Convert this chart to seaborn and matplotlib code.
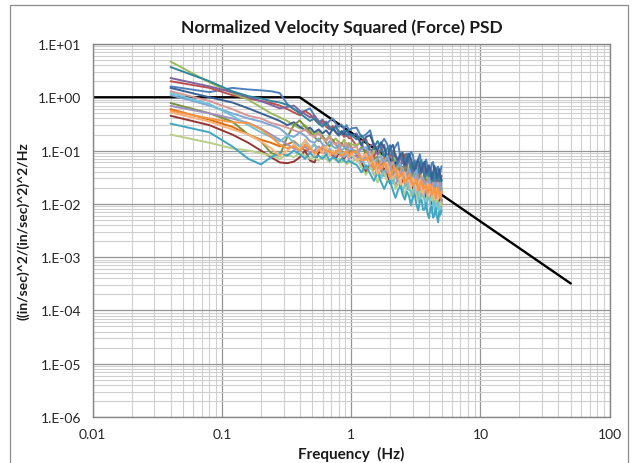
import numpy as np
import pandas as pd
import matplotlib
matplotlib.use("Agg")
import matplotlib.pyplot as plt
from matplotlib.ticker import LogLocator, FixedLocator, NullFormatter
from matplotlib.patches import Rectangle
import seaborn as sns

# ---------------- data ----------------
low_freq = np.round(np.arange(1, 26) * 0.04, 2)     # 0.04 .. 1.00 Hz
high_freq = np.round(np.arange(11, 51) * 0.1, 1)    # 1.1 .. 5.0 Hz

blue_lo = [1.6, 1.25, 1.5, 1.4, 1.35, 1.3, 1.2, 0.75, 0.6, 0.52, 0.56, 0.62, 0.45, 0.34, 0.38, 0.31, 0.36, 0.4, 0.32, 0.28, 0.31, 0.26, 0.3, 0.24, 0.26]
blue_hi = [0.27, 0.18, 0.2, 0.24, 0.126, 0.109, 0.135, 0.166, 0.132, 0.079, 0.097, 0.12, 0.143, 0.074, 0.057, 0.083, 0.088, 0.062, 0.095, 0.084, 0.048, 0.059, 0.069, 0.085, 0.05, 0.041, 0.055, 0.068, 0.048, 0.03, 0.039, 0.058, 0.061, 0.041, 0.031, 0.047, 0.05, 0.035, 0.04, 0.051]

red_lo = [2.0, 1.5, 1.1, 0.95, 0.85, 0.78, 0.7, 0.6, 0.52, 0.46, 0.55, 0.48, 0.38, 0.32, 0.36, 0.28, 0.25, 0.29, 0.22, 0.2, 0.23, 0.18, 0.2, 0.17, 0.17]
red_hi = [0.122, 0.152, 0.164, 0.104, 0.075, 0.119, 0.129, 0.078, 0.049, 0.077, 0.095, 0.075, 0.046, 0.05, 0.072, 0.084, 0.049, 0.04, 0.054, 0.038, 0.06, 0.044, 0.026, 0.038, 0.048, 0.055, 0.03, 0.026, 0.036, 0.044, 0.03, 0.021, 0.035, 0.042, 0.024, 0.029, 0.02, 0.034, 0.024, 0.016]

green_lo = [4.7, 1.9, 1.2, 0.9, 0.65, 0.5, 0.42, 0.36, 0.3, 0.26, 0.3, 0.24, 0.2, 0.23, 0.18, 0.16, 0.19, 0.15, 0.17, 0.14, 0.13, 0.16, 0.12, 0.14, 0.13]
green_hi = [0.126, 0.147, 0.083, 0.067, 0.097, 0.113, 0.076, 0.057, 0.08, 0.044, 0.054, 0.073, 0.058, 0.039, 0.044, 0.055, 0.065, 0.034, 0.029, 0.039, 0.046, 0.029, 0.046, 0.034, 0.023, 0.029, 0.039, 0.033, 0.023, 0.039, 0.027, 0.019, 0.022, 0.03, 0.033, 0.022, 0.018, 0.025, 0.028, 0.018]

purple_lo = [2.3, 1.6, 1.25, 1.0, 0.85, 0.72, 0.62, 0.66, 0.7, 0.56, 0.48, 0.42, 0.45, 0.36, 0.31, 0.35, 0.28, 0.25, 0.29, 0.23, 0.21, 0.24, 0.19, 0.2, 0.18]
purple_hi = [0.211, 0.131, 0.093, 0.122, 0.136, 0.083, 0.107, 0.129, 0.077, 0.053, 0.077, 0.086, 0.054, 0.074, 0.082, 0.041, 0.052, 0.07, 0.052, 0.038, 0.042, 0.061, 0.05, 0.031, 0.042, 0.049, 0.032, 0.035, 0.051, 0.036, 0.025, 0.037, 0.031, 0.041, 0.026, 0.022, 0.035, 0.03, 0.023, 0.034]

teal_lo = [3.7, 2.0, 1.3, 1.05, 0.95, 0.85, 0.8, 0.72, 0.6, 0.5, 0.42, 0.36, 0.4, 0.32, 0.28, 0.33, 0.26, 0.24, 0.28, 0.22, 0.2, 0.24, 0.19, 0.21, 0.2]
teal_hi = [0.162, 0.194, 0.148, 0.095, 0.113, 0.151, 0.108, 0.077, 0.11, 0.126, 0.069, 0.048, 0.068, 0.089, 0.07, 0.053, 0.083, 0.068, 0.041, 0.05, 0.065, 0.034, 0.04, 0.054, 0.066, 0.041, 0.031, 0.043, 0.05, 0.032, 0.043, 0.029, 0.022, 0.036, 0.046, 0.032, 0.027, 0.04, 0.022, 0.028]

dkorange_lo = [0.6, 0.38, 0.28, 0.2, 0.16, 0.14, 0.12, 0.13, 0.15, 0.12, 0.1, 0.11, 0.13, 0.1, 0.09, 0.11, 0.095, 0.1, 0.085, 0.09, 0.1, 0.08, 0.085, 0.09, 0.1]
dkorange_hi = [0.099, 0.065, 0.096, 0.068, 0.044, 0.07, 0.049, 0.071, 0.048, 0.034, 0.052, 0.04, 0.027, 0.048, 0.032, 0.036, 0.026, 0.042, 0.029, 0.02, 0.03, 0.034, 0.02, 0.022, 0.028, 0.016, 0.022, 0.028, 0.018, 0.022, 0.014, 0.023, 0.019, 0.015, 0.023, 0.016, 0.012, 0.018, 0.016, 0.0094]

dkblue_lo = [1.5, 1.0, 0.8, 0.62, 0.5, 0.42, 0.36, 0.3, 0.34, 0.28, 0.24, 0.27, 0.22, 0.25, 0.21, 0.24, 0.2, 0.26, 0.22, 0.19, 0.23, 0.2, 0.24, 0.21, 0.2]
dkblue_hi = [0.198, 0.125, 0.179, 0.195, 0.125, 0.102, 0.143, 0.112, 0.074, 0.109, 0.128, 0.079, 0.067, 0.081, 0.092, 0.051, 0.063, 0.088, 0.07, 0.05, 0.041, 0.057, 0.069, 0.049, 0.039, 0.056, 0.062, 0.038, 0.041, 0.053, 0.043, 0.029, 0.039, 0.052, 0.043, 0.03, 0.037, 0.045, 0.032, 0.028]

dkred_lo = [0.45, 0.3, 0.2, 0.14, 0.1, 0.075, 0.06, 0.058, 0.062, 0.075, 0.1, 0.065, 0.06, 0.09, 0.12, 0.085, 0.1, 0.08, 0.07, 0.09, 0.08, 0.07, 0.085, 0.075, 0.075]
dkred_hi = [0.082, 0.061, 0.039, 0.056, 0.066, 0.04, 0.033, 0.046, 0.036, 0.024, 0.029, 0.039, 0.029, 0.021, 0.029, 0.033, 0.019, 0.021, 0.026, 0.021, 0.014, 0.021, 0.027, 0.016, 0.014, 0.017, 0.02, 0.012, 0.018, 0.02, 0.014, 0.0098, 0.014, 0.017, 0.0104, 0.014, 0.017, 0.011, 0.009, 0.012]

dkgreen_lo = [0.78, 0.5, 0.35, 0.2, 0.15, 0.09, 0.08, 0.18, 0.3, 0.37, 0.28, 0.22, 0.18, 0.15, 0.19, 0.14, 0.12, 0.16, 0.13, 0.11, 0.14, 0.12, 0.1, 0.13, 0.11]
dkgreen_hi = [0.089, 0.116, 0.089, 0.06, 0.069, 0.077, 0.041, 0.056, 0.069, 0.045, 0.033, 0.048, 0.053, 0.033, 0.039, 0.05, 0.032, 0.024, 0.035, 0.037, 0.026, 0.02, 0.028, 0.035, 0.029, 0.02, 0.016, 0.024, 0.028, 0.02, 0.027, 0.017, 0.015, 0.022, 0.019, 0.024, 0.015, 0.013, 0.018, 0.02]

ltpurple_lo = [0.69, 0.5, 0.4, 0.33, 0.26, 0.2, 0.16, 0.13, 0.11, 0.1, 0.12, 0.09, 0.1, 0.12, 0.1, 0.085, 0.1, 0.09, 0.08, 0.095, 0.08, 0.075, 0.085, 0.07, 0.08]
ltpurple_hi = [0.079, 0.059, 0.077, 0.054, 0.035, 0.046, 0.052, 0.033, 0.042, 0.047, 0.031, 0.022, 0.03, 0.036, 0.039, 0.023, 0.021, 0.028, 0.023, 0.029, 0.018, 0.019, 0.024, 0.014, 0.021, 0.024, 0.016, 0.017, 0.013, 0.019, 0.017, 0.012, 0.02, 0.015, 0.01, 0.017, 0.012, 0.015, 0.017, 0.01]

aqua_lo = [0.32, 0.22, 0.12, 0.07, 0.055, 0.075, 0.09, 0.08, 0.1, 0.085, 0.07, 0.09, 0.075, 0.08, 0.07, 0.085, 0.065, 0.075, 0.07, 0.06, 0.07, 0.065, 0.06, 0.065, 0.06]
aqua_hi = [0.054, 0.039, 0.053, 0.037, 0.027, 0.039, 0.026, 0.019, 0.026, 0.027, 0.018, 0.013, 0.018, 0.022, 0.015, 0.012, 0.017, 0.014, 0.0094, 0.0136, 0.0144, 0.0096, 0.0075, 0.0113, 0.0119, 0.0077, 0.0078, 0.0104, 0.0065, 0.0054, 0.0084, 0.0088, 0.0055, 0.006, 0.0083, 0.006, 0.0045, 0.007, 0.0063, 0.0075]

pink_lo = [1.3, 0.85, 0.6, 0.45, 0.4, 0.33, 0.3, 0.27, 0.24, 0.22, 0.25, 0.2, 0.18, 0.21, 0.17, 0.15, 0.18, 0.14, 0.13, 0.15, 0.12, 0.13, 0.14, 0.12, 0.11]
pink_hi = [0.119, 0.071, 0.081, 0.098, 0.062, 0.045, 0.065, 0.067, 0.045, 0.05, 0.061, 0.04, 0.029, 0.041, 0.047, 0.029, 0.039, 0.046, 0.029, 0.022, 0.03, 0.035, 0.025, 0.022, 0.034, 0.025, 0.017, 0.026, 0.021, 0.028, 0.017, 0.021, 0.025, 0.018, 0.014, 0.021, 0.025, 0.016, 0.014, 0.019]

ltblue_lo = [1.1, 0.7, 0.5, 0.4, 0.35, 0.3, 0.26, 0.2, 0.18, 0.22, 0.19, 0.15, 0.14, 0.17, 0.13, 0.12, 0.15, 0.12, 0.11, 0.13, 0.1, 0.11, 0.12, 0.1, 0.11]
ltblue_hi = [0.086, 0.107, 0.116, 0.074, 0.053, 0.07, 0.078, 0.055, 0.081, 0.054, 0.036, 0.038, 0.051, 0.057, 0.038, 0.028, 0.038, 0.044, 0.035, 0.027, 0.038, 0.043, 0.027, 0.02, 0.028, 0.031, 0.021, 0.017, 0.025, 0.031, 0.023, 0.018, 0.015, 0.024, 0.025, 0.019, 0.016, 0.02, 0.025, 0.017]

ltgreen_lo = [0.2, 0.14, 0.11, 0.1, 0.09, 0.08, 0.07, 0.085, 0.075, 0.09, 0.08, 0.07, 0.075, 0.065, 0.08, 0.07, 0.06, 0.075, 0.065, 0.07, 0.06, 0.065, 0.055, 0.06, 0.06]
ltgreen_hi = [0.07, 0.049, 0.035, 0.049, 0.038, 0.025, 0.035, 0.04, 0.026, 0.027, 0.031, 0.019, 0.023, 0.029, 0.019, 0.015, 0.021, 0.023, 0.014, 0.017, 0.021, 0.014, 0.011, 0.017, 0.017, 0.013, 0.013, 0.01, 0.016, 0.012, 0.011, 0.014, 0.011, 0.0077, 0.012, 0.012, 0.009, 0.008, 0.011, 0.0094]

cyan_lo = [1.2, 0.75, 0.45, 0.3, 0.22, 0.18, 0.15, 0.19, 0.14, 0.12, 0.15, 0.11, 0.13, 0.1, 0.12, 0.09, 0.11, 0.085, 0.1, 0.09, 0.095, 0.08, 0.09, 0.075, 0.08]
cyan_hi = [0.065, 0.078, 0.047, 0.059, 0.065, 0.041, 0.03, 0.041, 0.046, 0.029, 0.024, 0.032, 0.033, 0.024, 0.017, 0.023, 0.026, 0.018, 0.018, 0.013, 0.02, 0.021, 0.014, 0.011, 0.015, 0.017, 0.011, 0.0086, 0.0126, 0.0144, 0.0094, 0.0068, 0.0105, 0.0117, 0.0071, 0.0083, 0.0108, 0.0059, 0.0071, 0.0088]

ltorange_lo = [0.52, 0.35, 0.25, 0.2, 0.15, 0.11, 0.08, 0.1, 0.13, 0.1, 0.16, 0.12, 0.08, 0.11, 0.09, 0.12, 0.08, 0.1, 0.085, 0.11, 0.08, 0.09, 0.1, 0.075, 0.09]
ltorange_hi = [0.065, 0.073, 0.087, 0.055, 0.063, 0.036, 0.049, 0.055, 0.06, 0.037, 0.031, 0.036, 0.041, 0.023, 0.035, 0.039, 0.026, 0.028, 0.02, 0.03, 0.026, 0.018, 0.0225, 0.029, 0.019, 0.015, 0.022, 0.019, 0.024, 0.014, 0.016, 0.021, 0.017, 0.012, 0.017, 0.02, 0.012, 0.015, 0.013, 0.017]

orange_lo = [0.56, 0.4, 0.34, 0.33, 0.25, 0.18, 0.13, 0.11, 0.12, 0.1, 0.13, 0.11, 0.09, 0.1, 0.12, 0.095, 0.1, 0.085, 0.09, 0.11, 0.08, 0.085, 0.1, 0.08, 0.09]
orange_hi = [0.097, 0.066, 0.067, 0.079, 0.046, 0.057, 0.044, 0.058, 0.043, 0.031, 0.043, 0.047, 0.031, 0.033, 0.038, 0.024, 0.029, 0.036, 0.029, 0.023, 0.024, 0.028, 0.018, 0.024, 0.027, 0.019, 0.02, 0.023, 0.016, 0.02, 0.023, 0.015, 0.017, 0.02, 0.013, 0.017, 0.02, 0.015, 0.013, 0.017]

# reference spectrum (black)
ref_freq = [0.01, 0.4, 50.0]
ref_psd = [1.0, 1.0, 3.2e-4]

x_ticks = [0.01, 0.1, 1, 10, 100]
x_tick_labels = ["0.01", "0.1", "1", "10", "100"]
y_ticks = [1e-6, 1e-5, 1e-4, 1e-3, 1e-2, 1e-1, 1e0, 1e1]
y_tick_labels = ["1.E-06", "1.E-05", "1.E-04", "1.E-03", "1.E-02", "1.E-01", "1.E+00", "1.E+01"]

series = [
    ("blue", blue_lo, blue_hi, "#4F81BD"),
    ("red", red_lo, red_hi, "#C0504D"),
    ("green", green_lo, green_hi, "#9BBB59"),
    ("purple", purple_lo, purple_hi, "#8064A2"),
    ("teal", teal_lo, teal_hi, "#31859C"),
    ("dkorange", dkorange_lo, dkorange_hi, "#E46C0A"),
    ("dkblue", dkblue_lo, dkblue_hi, "#3A6098"),
    ("dkred", dkred_lo, dkred_hi, "#953735"),
    ("dkgreen", dkgreen_lo, dkgreen_hi, "#77933C"),
    ("ltpurple", ltpurple_lo, ltpurple_hi, "#A18FC0"),
    ("pink", pink_lo, pink_hi, "#D99694"),
    ("ltblue", ltblue_lo, ltblue_hi, "#7EA6D6"),
    ("ltgreen", ltgreen_lo, ltgreen_hi, "#B7CF86"),
    ("cyan", cyan_lo, cyan_hi, "#6FC3D8"),
    ("aqua", aqua_lo, aqua_hi, "#3FA6C4"),
    ("ltorange", ltorange_lo, ltorange_hi, "#FAB37A"),
    ("orange", orange_lo, orange_hi, "#F79646"),
]

rows = []
bad = []
for name, lo, hi, col in series:
    if len(lo) != len(low_freq) or len(hi) != len(high_freq):
        bad.append((name, len(lo), len(hi)))
        continue
    for f, v in zip(list(low_freq) + list(high_freq), list(lo) + list(hi)):
        rows.append({"freq": f, "psd": v, "series": name})
if bad:
    raise ValueError(f"length mismatch: {bad}")
df = pd.DataFrame(rows)
palette = {name: col for name, _, _, col in series}
order = [name for name, _, _, _ in series]

# ---------------- plot ----------------
sns.set_style("white")
plt.rcParams["font.family"] = ["Lato", "DejaVu Sans"]

W, H = 632, 464
fig = plt.figure(figsize=(W / 100, H / 100), dpi=100)
L, R, T, B = 92.7, 609.7, 45.0, 418.0
ax = fig.add_axes([L / W, 1 - B / H, (R - L) / W, (B - T) / H])

ax.set_xscale("log")
ax.set_yscale("log")
ax.set_xlim(0.01, 100)
ax.set_ylim(1e-6, 10)

ax.xaxis.set_minor_locator(LogLocator(base=10, subs=np.arange(2, 10), numticks=20))
ax.yaxis.set_minor_locator(LogLocator(base=10, subs=np.arange(2, 10), numticks=20))
ax.xaxis.set_minor_formatter(NullFormatter())
ax.yaxis.set_minor_formatter(NullFormatter())
ax.grid(which="minor", color="#CFCFCF", lw=0.8, zorder=0)
ax.grid(which="major", color="#959595", lw=0.9, zorder=0)
ax.set_axisbelow(True)

# black reference drawn first so the measured spectra sit on top of it
sns.lineplot(x=ref_freq, y=ref_psd, color="black", lw=1.7, ax=ax,
             estimator=None, sort=False)
sns.lineplot(data=df, x="freq", y="psd", hue="series", hue_order=order,
             palette=palette, estimator=None, sort=False, legend=False,
             lw=1.4, ax=ax)

ax.xaxis.set_major_locator(FixedLocator(x_ticks))
ax.set_xticklabels(x_tick_labels)
ax.yaxis.set_major_locator(FixedLocator(y_ticks))
ax.set_yticklabels(y_tick_labels)
ax.tick_params(which="major", direction="out", length=5, width=0.8,
               color="#868686", labelsize=10, labelcolor="#262626", pad=3)
ax.tick_params(which="minor", length=0)

for s in ax.spines.values():
    s.set_color("#868686")
    s.set_linewidth(1.0)

ax.set_xlabel("Frequency  (Hz)", fontsize=11, fontweight="bold", color="#1a1a1a", labelpad=4)
ax.set_ylabel("((in/sec)^2/(in/sec)^2)^2/Hz", fontsize=10, fontweight="bold", color="#1a1a1a", labelpad=6)

fig.text(342 / W, 1 - 28 / H, "Normalized Velocity Squared (Force) PSD",
         ha="center", va="center", fontsize=12.5, fontweight="bold", color="#1a1a1a")

fig.patches.append(Rectangle((10 / W, -0.02), (628 - 10) / W, 1 - 6 / H + 0.02,
                             transform=fig.transFigure, fill=False,
                             edgecolor="#8C8C8C", lw=0.9))

fig.savefig("out.png", dpi=100)
